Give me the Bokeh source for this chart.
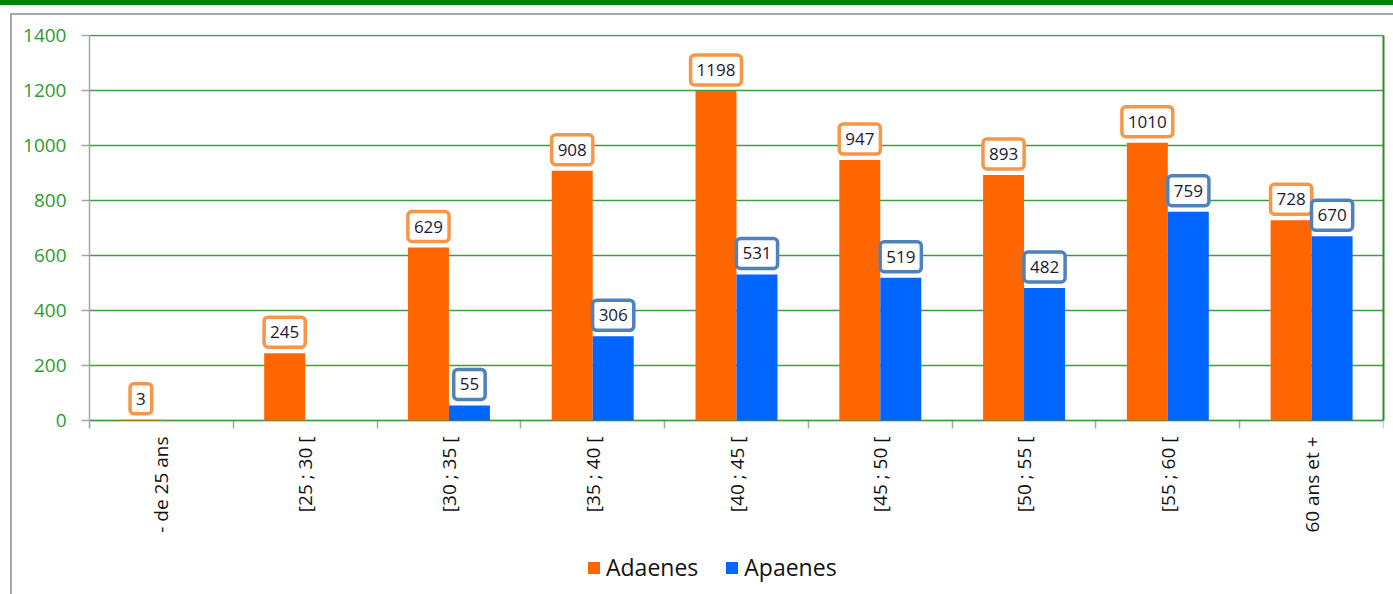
import math
from bokeh.plotting import figure
from bokeh.models import (ColumnDataSource, FixedTicker, Legend, LegendItem, LinearAxis)
from bokeh.transform import dodge
from bokeh.core.properties import value
from bokeh.embed import file_html
from bokeh.resources import INLINE

categories = ["- de 25 ans", "[25 ; 30 [", "[30 ; 35 [", "[35 ; 40 [", "[40 ; 45 [",
              "[45 ; 50 [", "[50 ; 55 [", "[55 ; 60 [", "60 ans et +"]
adaenes = [3, 245, 629, 908, 1198, 947, 893, 1010, 728]
apaenes = [None, None, 55, 306, 531, 519, 482, 759, 670]
y_ticks = [0, 200, 400, 600, 800, 1000, 1200, 1400]

ORANGE = "#FF6600"
BLUE = "#0066FF"
ORANGE_BORDER = "#F79646"
BLUE_BORDER = "#4F81BD"
GRID_GREEN = "#3F9F3F"
EDGE_GREEN = "#2E8B2E"
TICK_GREEN = "#2E9B2E"
GRAY = "#A6A6A6"
FONT = "Open Sans"

n = len(categories)
xc = [i + 0.5 for i in range(n)]
src_a = ColumnDataSource(dict(x=xc, v=adaenes, t=[str(v) for v in adaenes]))
bx = [x for x, v in zip(xc, apaenes) if v is not None]
bv = [v for v in apaenes if v is not None]
src_b = ColumnDataSource(dict(x=bx, v=bv, t=[str(v) for v in bv]))
src_c = ColumnDataSource(dict(x=xc, y=[0] * n, t=categories))

# plot area: value axis 0..1400 over 385 px; the frame continues 174 px below zero
# (and 1 px above the top) so that labels and legend sit inside it
Y_MAX = 1400
PLOT_H = 385
BELOW_H = 174
TOP_PAD = 1
unit = Y_MAX / PLOT_H
y_start = -BELOW_H * unit
y_end = Y_MAX + TOP_PAD * unit

p = figure(width=1393, height=594, frame_width=1294, frame_height=PLOT_H + BELOW_H + TOP_PAD,
           x_range=(0, n), y_range=(y_start, y_end), x_axis_location="above",
           output_backend="svg", toolbar_location=None,
           min_border_left=89, min_border_right=10, min_border_top=35 - TOP_PAD,
           min_border_bottom=0)
p.margin = (0, 0, 0, 0)
p.background_fill_color = "white"
p.border_fill_alpha = 0
p.styles = {
    "background": ("linear-gradient(#A6A6A6,#A6A6A6) 10px 13px / 2px 100% no-repeat, "
                   "linear-gradient(#A6A6A6,#A6A6A6) 10px 13px / 100% 2px no-repeat, "
                   "linear-gradient(#008000,#008000) 0px 0px / 100% 5px no-repeat, white"),
}
p.outline_line_color = None

p.xgrid.grid_line_color = None
p.ygrid.ticker = FixedTicker(ticks=y_ticks)
p.ygrid.grid_line_color = GRID_GREEN
p.ygrid.grid_line_width = 1.5

bw = 0.285
ra = p.vbar(x=dodge("x", -bw / 2, range=p.x_range), top="v", width=bw, source=src_a,
            fill_color=ORANGE, line_color=None)
rb = p.vbar(x=dodge("x", bw / 2, range=p.x_range), top="v", width=bw, source=src_b,
            fill_color=BLUE, line_color=None)

# category axis: fixed at zero, ticks between categories pointing down
xa = p.xaxis[0]
xa.fixed_location = 0
xa.ticker = FixedTicker(ticks=[], minor_ticks=list(range(n + 1)))
xa.major_label_text_font_size = "0px"
xa.major_tick_line_color = None
xa.major_tick_out = 0
xa.major_tick_in = 0
xa.minor_tick_line_color = GRAY
xa.minor_tick_in = 8
xa.minor_tick_out = 0
xa.minor_tick_line_width = 1.5
xa.axis_line_color = GRAY
xa.axis_line_width = 1.5
xa.major_label_standoff = 0
xa.level = "underlay"

p.text(x="x", y="y", text="t", source=src_c, angle=math.pi / 2,
       text_align="right", text_baseline="middle", y_offset=16,
       text_font=value(FONT), text_font_size="19px", text_color="#111111")

pad = dict(left=6, right=6, top=9, bottom=9)
p.text(x=dodge("x", -bw / 2, range=p.x_range), y="v", text="t", source=src_a,
       text_align="center", text_baseline="middle", y_offset=-21,
       text_font=value(FONT), text_font_size="17px", text_color="#1a1a2e",
       background_fill_color="white", border_line_color=ORANGE_BORDER,
       border_line_width=3.5, padding=pad, border_radius=4)
p.text(x=dodge("x", bw / 2, range=p.x_range), y="v", text="t", source=src_b,
       text_align="center", text_baseline="middle", y_offset=-21,
       text_font=value(FONT), text_font_size="17px", text_color="#1a1a2e",
       background_fill_color="white", border_line_color=BLUE_BORDER,
       border_line_width=3.5, padding=pad, border_radius=4)

ya = p.yaxis[0]
ya.bounds = (-8 * unit, Y_MAX)
ya.ticker = FixedTicker(ticks=y_ticks)
ya.axis_line_color = GRAY
ya.axis_line_width = 1.5
ya.major_tick_line_color = GRAY
ya.major_tick_line_width = 1.5
ya.major_tick_out = 8
ya.major_tick_in = 0
ya.minor_tick_line_color = None
ya.major_label_standoff = 15
ya.major_label_text_font = FONT
ya.major_label_text_font_size = "19px"
ya.major_label_text_color = TICK_GREEN

right = LinearAxis(bounds=(0, Y_MAX), ticker=FixedTicker(ticks=[]),
                   axis_line_color=EDGE_GREEN, axis_line_width=2,
                   major_tick_line_color=None, minor_tick_line_color=None,
                   major_tick_out=0, minor_tick_out=0, major_label_standoff=0,
                   major_label_text_font_size="0px")
p.add_layout(right, "right")

legend = Legend(items=[LegendItem(label="Adaenes", renderers=[ra]),
                       LegendItem(label="Apaenes", renderers=[rb])],
                orientation="horizontal", location=(497, 11),
                label_text_font=FONT, label_text_font_size="23px", label_text_color="#111111",
                glyph_width=15, glyph_height=15, label_standoff=5, spacing=26,
                padding=0, margin=0, border_line_color=None, background_fill_alpha=0)
p.add_layout(legend, "center")

open("out.html", "w").write(file_html(p, INLINE))
